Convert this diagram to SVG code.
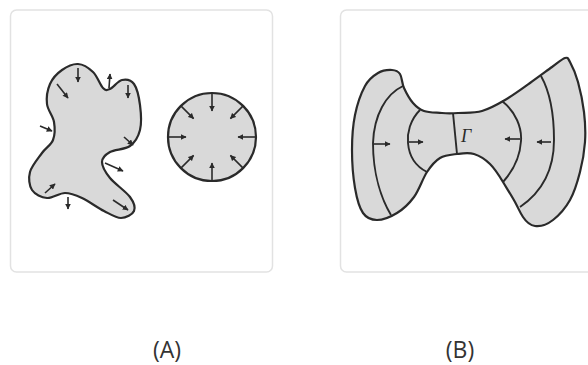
<svg xmlns="http://www.w3.org/2000/svg" width="588" height="365" viewBox="0 0 588 365">
<defs>
<marker id="ah" viewBox="0 0 10 10" refX="9" refY="5" markerWidth="3.8" markerHeight="3.6" orient="auto" markerUnits="strokeWidth">
<path d="M0,0 L10,5 L0,10 Z" fill="#2a2a2a"/>
</marker>
<style>
.panel{fill:#fff;stroke:#e2e2e2;stroke-width:1.5}
.shape{fill:#d9d9d9;stroke:#2a2a2a;stroke-width:2.2;stroke-linejoin:round}
.inner{fill:none;stroke:#2a2a2a;stroke-width:1.9}
.arr{fill:none;stroke:#2a2a2a;stroke-width:1.6;marker-end:url(#ah)}
.lbl{font-family:"Open Sans",sans-serif;font-size:23px;fill:#333;text-anchor:middle}
</style>
</defs>
<rect width="588" height="365" fill="#fff"/>
<g id="panelA">
<rect class="panel" x="10.5" y="10" width="262" height="262" rx="6"/>
<g id="blob">
<path class="shape" d="M78,64 C83.2,64.3 88.8,68 93,72 C97.2,76 100.2,85.2 103,88 C105.8,90.8 106.8,90.3 110,89 C113.2,87.7 118,80.8 122,80 C126,79.2 131,79.8 134,84 C137,88.2 139,97.3 140,105 C141,112.7 141.7,123.2 140,130 C138.3,136.8 135,142.3 130,146 C125,149.7 114.7,149.3 110,152 C105.3,154.7 102,157.7 102,162 C102,166.3 105.3,172.2 110,178 C114.7,183.8 126,191.5 130,197 C134,202.5 135.5,207.5 134,211 C132.5,214.5 126,218 121,218 C116,218 110.5,214.3 104,211 C97.5,207.7 88.5,201 82,198 C75.5,195 70.8,193 65,193 C59.2,193 52.5,198.5 47,198 C41.5,197.5 34.8,194.3 32,190 C29.2,185.7 28.3,178.2 30,172 C31.7,165.8 38.2,158.3 42,153 C45.8,147.7 51,145.2 53,140 C55,134.8 55,128 54,122 C53,116 47.7,110.3 47,104 C46.3,97.7 47.5,89.7 50,84 C52.5,78.3 57.3,73.3 62,70 C66.7,66.7 72.8,63.7 78,64 Z"/>
</g>
<g id="circle">
<circle class="shape" cx="212" cy="137" r="44"/>
</g>
</g>
<g id="panelB">
<rect class="panel" x="340.5" y="10" width="260" height="262" rx="6"/>
<g id="bowtie">
<path class="shape" d="M392,70 C395.7,70.2 398,71 400,74 C402,77 401.8,83.2 404,88 C406.2,92.8 409.7,99.2 413,103 C416.3,106.8 419.2,109.2 424,111 C428.8,112.8 436.3,112.5 442,113 C447.7,113.5 451.3,113.5 458,113 C464.7,112.5 474.2,113.3 482,111 C489.8,108.7 497,104.7 505,100 C513,95.3 522.2,88.5 530,83 C537.8,77.5 546.2,71.2 552,67 C557.8,62.8 562,58.8 565,58 C568,57.2 567.8,58 570,62 C572.2,66 575.7,73.7 578,82 C580.3,90.3 582.8,102 584,112 C585.2,122 585.7,132 585,142 C584.3,152 582.5,162.3 580,172 C577.5,181.7 574.5,192 570,200 C565.5,208 558.8,215.5 553,220 C547.2,224.5 540,226.7 535,226 C530,225.3 526.3,222 523,217 C519.7,212 518.3,208 515,202 C511.7,196 507.2,189 503,182 C498.8,175 494.8,168.7 490,164 C485.2,159.3 479.5,155.7 474,154 C468.5,152.3 462.7,153.3 457,154 C451.3,154.7 445,155 440,158 C435,161 431.3,165.5 427,172 C422.7,178.5 419,190.2 414,197 C409,203.8 403.2,209.2 397,213 C390.8,216.8 382.7,220 377,220 C371.3,220 366.7,218.3 363,213 C359.3,207.7 356.8,198.5 355,188 C353.2,177.5 352,162.2 352,150 C352,137.8 352.8,125.7 355,115 C357.2,104.3 361.2,93 365,86 C368.8,79 373.5,75.7 378,73 C382.5,70.3 388.3,69.8 392,70 Z"/>
<path class="inner" d="M403,86 C386,94 374,115 373,143 C373,175 382,200 391,215"/>
<path class="inner" d="M420,110 C410,120 407,133 408,143 C409,155 415,166 427,172"/>
<path class="inner" d="M453,113 L457,154"/>
<path class="inner" d="M502,101 C516,112 522,128 521,141 C520,158 512,172 503,182"/>
<path class="inner" d="M541,76 C550,92 554,115 554,140 C554,165 545,190 520,207"/>
<text x="461" y="142" font-family="Liberation Serif, serif" font-style="italic" font-size="18" fill="#2a2a2a">Γ</text>
</g>
</g>
<g id="connectors">
<line class="arr" x1="78" y1="68" x2="78" y2="82"/>
<line class="arr" x1="57" y1="84" x2="68" y2="98"/>
<line class="arr" x1="109" y1="88" x2="110" y2="74"/>
<line class="arr" x1="128" y1="85" x2="128" y2="98"/>
<line class="arr" x1="40" y1="126" x2="52" y2="131"/>
<line class="arr" x1="124" y1="137" x2="133" y2="145"/>
<line class="arr" x1="105" y1="163" x2="123" y2="171"/>
<line class="arr" x1="45" y1="193" x2="55" y2="184"/>
<line class="arr" x1="68" y1="197" x2="68" y2="209"/>
<line class="arr" x1="113" y1="200" x2="128" y2="210"/>
<line class="arr" x1="212" y1="93" x2="212" y2="111"/>
<line class="arr" x1="243.1" y1="105.9" x2="230.4" y2="118.6"/>
<line class="arr" x1="256" y1="137" x2="238" y2="137"/>
<line class="arr" x1="243.1" y1="168.1" x2="230.4" y2="155.4"/>
<line class="arr" x1="212" y1="181" x2="212" y2="163"/>
<line class="arr" x1="180.9" y1="168.1" x2="193.6" y2="155.4"/>
<line class="arr" x1="168" y1="137" x2="186" y2="137"/>
<line class="arr" x1="180.9" y1="105.9" x2="193.6" y2="118.6"/>
<line class="arr" x1="374" y1="144" x2="390" y2="144"/>
<line class="arr" x1="409" y1="142" x2="423" y2="142"/>
<line class="arr" x1="520" y1="139" x2="505" y2="139"/>
<line class="arr" x1="551" y1="142" x2="537" y2="142"/>
</g>
<text class="lbl" x="167" y="358">(A)</text>
<text class="lbl" x="460" y="358">(B)</text>
</svg>
